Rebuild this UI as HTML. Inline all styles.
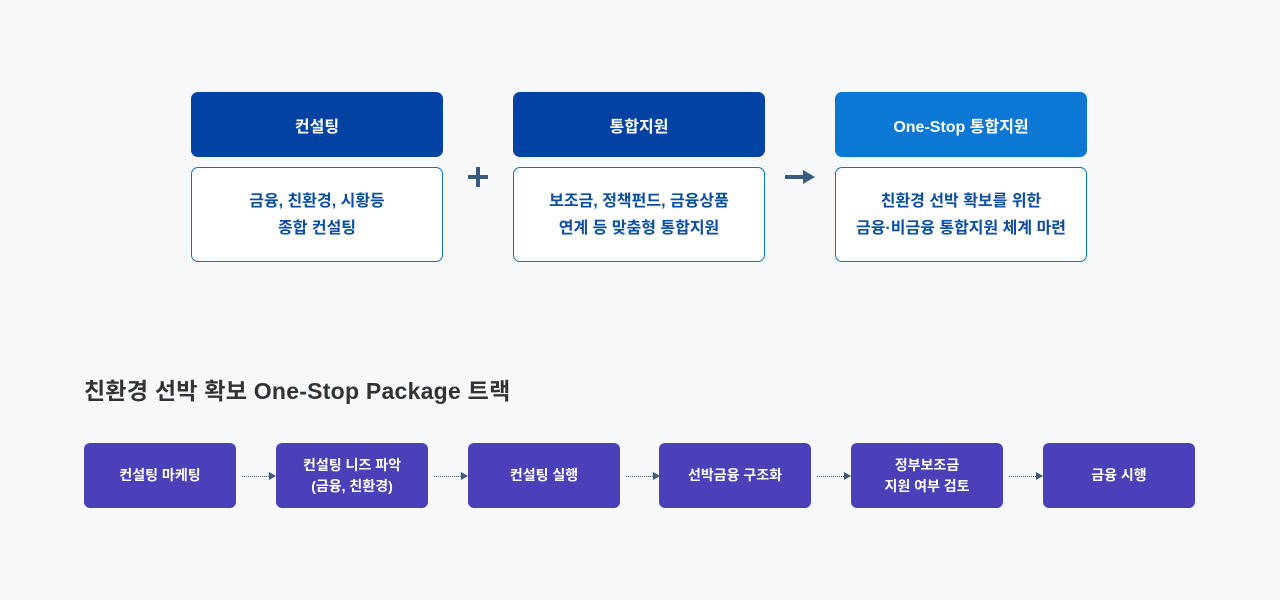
<!DOCTYPE html>
<html><head><meta charset="utf-8"><style>
body{margin:0;width:1280px;height:600px;background:#f7f8fa;position:relative;font-family:"Liberation Sans","Noto Sans CJK KR",sans-serif;overflow:hidden}
.h{position:absolute;top:92px;width:252px;height:65px;border-radius:7px;color:#fff;font-size:16px;font-weight:bold;display:flex;align-items:center;justify-content:center;background:#0242a3}
.b{position:absolute;top:167px;width:250px;height:93px;border:1px solid #0b72d0;border-radius:7px;background:#fff;color:#0b4ea0;font-size:16px;font-weight:bold;display:flex;align-items:center;justify-content:center;text-align:center;line-height:27px}
.p{position:absolute;top:443px;width:152px;height:65px;border-radius:6px;background:#4a40b8;color:#fff;font-size:14px;font-weight:bold;display:flex;align-items:center;justify-content:center;text-align:center;line-height:21px}
.a{position:absolute;top:476px;width:27px;height:0;border-top:1px dotted #3c5a80}
.a:after{content:"";position:absolute;right:-7px;top:-5px;border-left:7px solid #3c5a80;border-top:4.5px solid transparent;border-bottom:4.5px solid transparent}
</style></head><body>
<div class="h" style="left:191px">컨설팅</div>
<div class="h" style="left:513px">통합지원</div>
<div class="h" style="left:835px;background:#0b78d6">One-Stop 통합지원</div>
<div class="b" style="left:191px">금융, 친환경, 시황등<br>종합 컨설팅</div>
<div class="b" style="left:513px">보조금, 정책펀드, 금융상품<br>연계 등 맞춤형 통합지원</div>
<div class="b" style="left:835px">친환경 선박 확보를 위한<br>금융·비금융 통합지원 체계 마련</div>
<div style="position:absolute;left:468px;top:175px;width:20px;height:4px;background:#3c5a80"></div>
<div style="position:absolute;left:476px;top:167px;width:4px;height:20px;background:#3c5a80"></div>
<div style="position:absolute;left:785px;top:175px;width:20px;height:4px;background:#3c5a80"></div>
<div style="position:absolute;left:803px;top:170px;border-left:12px solid #3c5a80;border-top:7px solid transparent;border-bottom:7px solid transparent"></div>
<div style="position:absolute;left:84px;top:372px;font-size:23px;letter-spacing:0.25px;font-weight:bold;color:#333">친환경 선박 확보 One-Stop Package 트랙</div>
<div class="p" style="left:84px">컨설팅 마케팅</div>
<div class="p" style="left:276px">컨설팅 니즈 파악<br>(금융, 친환경)</div>
<div class="p" style="left:468px">컨설팅 실행</div>
<div class="p" style="left:659px">선박금융 구조화</div>
<div class="p" style="left:851px">정부보조금<br>지원 여부 검토</div>
<div class="p" style="left:1043px">금융 시행</div>
<div class="a" style="left:242px"></div>
<div class="a" style="left:434px"></div>
<div class="a" style="left:626px"></div>
<div class="a" style="left:817px"></div>
<div class="a" style="left:1009px"></div>
</body></html>
